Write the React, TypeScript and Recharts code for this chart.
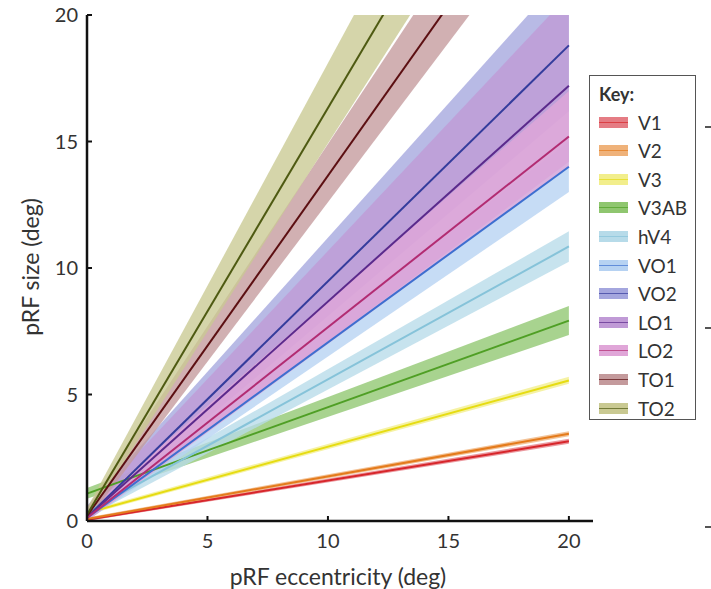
import React from "react";
import { Area, ComposedChart, Line, XAxis, YAxis } from "recharts";

// visual areas, in drawing order
const REGIONS = ["V1", "V2", "V3", "V3AB", "hV4", "VO1", "VO2", "LO1", "LO2", "TO1", "TO2"];

// fitted pRF size at eccentricity 0 and 20 deg (deg)
const FIT_AT_0 = [0.05, 0.08, 0.32, 1.08, 0.35, 0.12, 0.15, 0.15, 0.12, 0.2, 0.25];
const FIT_AT_20 = [3.15, 3.45, 5.55, 7.92, 10.85, 14.0, 18.8, 17.2, 15.2, 27.1, 32.4];

// confidence band edges at the same two eccentricities
const LOW_AT_0 = [0.0, 0.02, 0.25, 0.88, 0.15, 0.0, 0.0, 0.0, 0.0, 0.0, 0.05];
const HIGH_AT_0 = [0.1, 0.14, 0.4, 1.3, 0.55, 0.35, 0.6, 0.55, 0.4, 0.5, 0.5];
const LOW_AT_20 = [3.05, 3.35, 5.42, 7.35, 10.25, 13.0, 16.2, 14.2, 14.0, 25.2, 29.8];
const HIGH_AT_20 = [3.25, 3.55, 5.7, 8.5, 11.45, 15.0, 21.8, 20.8, 17.0, 29.3, 35.7];

const ECC = [0, 20];
const TICKS = [0, 5, 10, 15, 20];

const LINE_COLORS = [
  "#d7262b", "#e47b1c", "#e6dc12", "#4f9f25", "#86c3d9", "#3d6fd0",
  "#343c9c", "#5b2a8c", "#b22c72", "#5c0f12", "#4e5a12",
];
const BAND_COLORS = [
  "#e57c84", "#efb27a", "#f2ee8c", "#8fc66f", "#b7dbe9", "#b6d2f2",
  "#a4a6de", "#c09ad6", "#e0a6d8", "#c49a9c", "#c9c992",
];

const FONT = "Lato, 'Open Sans', sans-serif";
const TEXT = "#333";

const rows = ECC.map((x, j) => {
  const row: Record<string, number | number[]> = { x };
  REGIONS.forEach((r, i) => {
    row[r] = j === 0 ? FIT_AT_0[i] : FIT_AT_20[i];
    row[`${r}_ci`] =
      j === 0 ? [LOW_AT_0[i], HIGH_AT_0[i]] : [LOW_AT_20[i], HIGH_AT_20[i]];
  });
  return row;
});

function XTick({ x, y, payload }: any) {
  return (
    <g>
      <line x1={x} x2={x} y1={y} y2={y - 5} stroke="#111" strokeWidth={2} />
      <text x={x} y={y + 27} textAnchor="middle" fill={TEXT} fontSize={20} fontFamily={FONT}>
        {payload.value}
      </text>
    </g>
  );
}

function YTick({ x, y, payload }: any) {
  return (
    <g>
      <line x1={x} x2={x + 5} y1={y} y2={y} stroke="#111" strokeWidth={2} />
      <text x={x - 9} y={y} dy="0.35em" textAnchor="end" fill={TEXT} fontSize={20} fontFamily={FONT}>
        {payload.value}
      </text>
    </g>
  );
}

function Key() {
  return (
    <div
      style={{
        position: "absolute",
        left: 589,
        top: 75,
        width: 105,
        height: 343,
        border: "1.5px solid #555",
        background: "#fff",
        fontFamily: FONT,
        color: TEXT,
      }}
    >
      <div style={{ position: "absolute", left: 9, top: 7, fontWeight: 700, fontSize: 18 }}>Key:</div>
      {REGIONS.map((r, i) => (
        <div
          key={r}
          style={{ position: "absolute", left: 9, top: 34 + i * 28.6, height: 24, display: "flex", alignItems: "center" }}
        >
          <div style={{ position: "relative", width: 29, height: 11, background: BAND_COLORS[i] }}>
            <div
              style={{ position: "absolute", left: 0, right: 0, top: 5, height: 1, background: LINE_COLORS[i], opacity: 0.7 }}
            />
          </div>
          <span style={{ marginLeft: 10, fontSize: 19 }}>{r}</span>
        </div>
      ))}
    </div>
  );
}

export default function App() {
  return (
    <div style={{ position: "absolute", left: 0, top: 0, width: 711, height: 589, background: "#fff" }}>
      <ComposedChart
        width={711}
        height={589}
        data={rows}
        margin={{ top: 15, right: 118, bottom: 38, left: 47 }}
      >
        <XAxis
          dataKey="x"
          type="number"
          domain={[0, 21]}
          ticks={TICKS}
          height={30}
          tickSize={0}
          tickMargin={0}
          tick={<XTick />}
          axisLine={{ stroke: "#111", strokeWidth: 2.5 }}
        />
        <YAxis
          type="number"
          domain={[0, 20]}
          ticks={TICKS}
          allowDataOverflow
          width={40}
          tickSize={0}
          tickMargin={0}
          tick={<YTick />}
          axisLine={{ stroke: "#111", strokeWidth: 2.5 }}
        />
        {REGIONS.map((r, i) => (
          <Area
            key={`${r}-band`}
            type="linear"
            dataKey={`${r}_ci`}
            stroke="none"
            fill={BAND_COLORS[i]}
            fillOpacity={0.78}
            isAnimationActive={false}
            activeDot={false}
          />
        ))}
        {REGIONS.map((r, i) => (
          <Line
            key={r}
            type="linear"
            dataKey={r}
            stroke={LINE_COLORS[i]}
            strokeWidth={2}
            dot={false}
            activeDot={false}
            isAnimationActive={false}
          />
        ))}
      </ComposedChart>

      <div
        style={{
          position: "absolute",
          left: 30,
          top: 267,
          transform: "translate(-50%, -50%) rotate(-90deg)",
          whiteSpace: "nowrap",
          fontFamily: FONT,
          fontSize: 23,
          color: TEXT,
        }}
      >
        pRF size (deg)
      </div>
      <div
        style={{
          position: "absolute",
          left: 338,
          top: 576,
          transform: "translate(-50%, -50%)",
          whiteSpace: "nowrap",
          fontFamily: FONT,
          fontSize: 23,
          color: TEXT,
        }}
      >
        pRF eccentricity (deg)
      </div>

      <Key />

      {/* stray tick marks of the neighbouring panel */}
      {[127, 328, 527].map((y) => (
        <div key={y} style={{ position: "absolute", left: 705, top: y - 1, width: 6, height: 1.5, background: "#555" }} />
      ))}
    </div>
  );
}
